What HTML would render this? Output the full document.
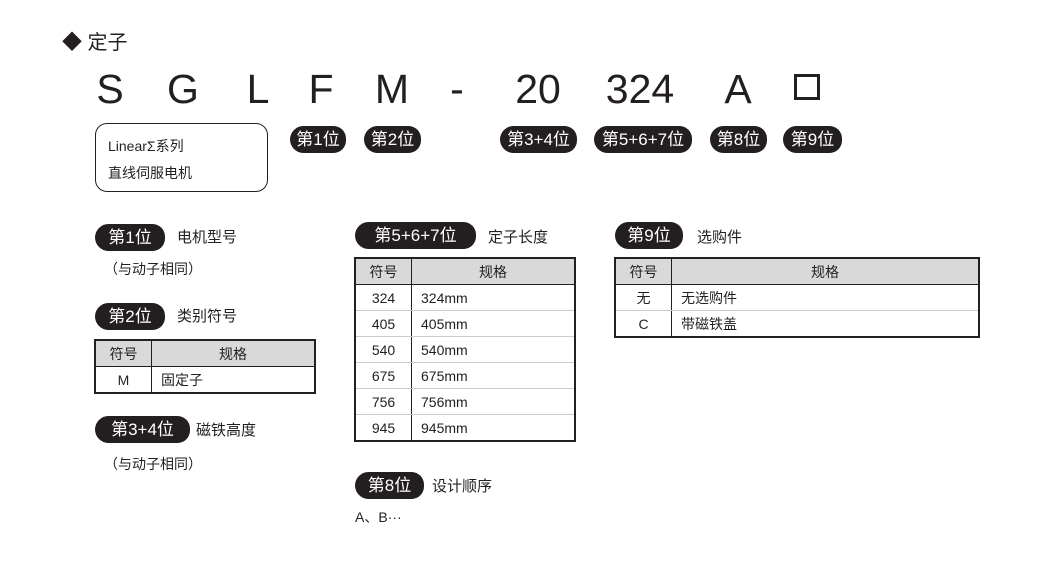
<!DOCTYPE html>
<html><head><meta charset="utf-8"><style>
body{margin:0;width:1061px;height:575px;background:#fff;position:relative;overflow:hidden;font-family:"Liberation Sans","Noto Sans CJK SC",sans-serif;color:#231f20}
.a{position:absolute;white-space:nowrap}
.big{position:absolute;top:66px;font-size:41px;line-height:46px;transform:translateX(-50%)}
.pill{position:absolute;background:#231f20;color:#fff;border-radius:14px 13px 13px 14px;font-size:17px;text-align:center;height:27px;line-height:27px}
.t{font-size:14px}
table{position:absolute;border-collapse:collapse;border:2px solid #231f20;font-size:14px}
td{height:25px;padding:0;border-bottom:1px solid #ccc}
td.c{text-align:center;border-right:1.5px solid #231f20}
td.l{padding-left:9px}
tr.h td{background:#d9d9d9;border-bottom:1.5px solid #231f20;text-align:center}
tr:last-child td{border-bottom:none}
</style></head><body>
<div class="a" style="left:62px;top:26px;font-size:20px">◆ 定子</div>
<div class="big" style="left:110px">S</div>
<div class="big" style="left:183px">G</div>
<div class="big" style="left:258px">L</div>
<div class="big" style="left:321px">F</div>
<div class="big" style="left:392px">M</div>
<div class="big" style="left:457px">-</div>
<div class="big" style="left:538px">20</div>
<div class="big" style="left:640px">324</div>
<div class="big" style="left:738px">A</div>
<div class="a" style="left:794px;top:74px;width:26px;height:26px;border:3px solid #231f20;box-sizing:border-box"></div>
<div class="a" style="left:95px;top:123px;width:173px;height:69px;border:1.5px solid #231f20;border-radius:12px;box-sizing:border-box"></div>
<div class="a t" style="left:108px;top:136px">LinearΣ系列</div>
<div class="a t" style="left:108px;top:163px">直线伺服电机</div>
<div class="pill" style="left:290px;top:126px;width:56px">第1位</div>
<div class="pill" style="left:364px;top:126px;width:57px">第2位</div>
<div class="pill" style="left:500px;top:126px;width:77px">第3+4位</div>
<div class="pill" style="left:594px;top:126px;width:98px">第5+6+7位</div>
<div class="pill" style="left:710px;top:126px;width:57px">第8位</div>
<div class="pill" style="left:783px;top:126px;width:59px">第9位</div>

<div class="pill" style="left:95px;top:224px;width:70px">第1位</div>
<div class="a" style="left:177px;top:226px;font-size:15px">电机型号</div>
<div class="a t" style="left:104px;top:259px">（与动子相同）</div>
<div class="pill" style="left:95px;top:303px;width:70px">第2位</div>
<div class="a" style="left:177px;top:305px;font-size:15px">类别符号</div>
<table style="left:94px;top:339px;width:222px"><tr class="h"><td class="c" style="width:55px">符号</td><td>规格</td></tr><tr><td class="c">M</td><td class="l">固定子</td></tr></table>
<div class="pill" style="left:95px;top:416px;width:95px">第3+4位</div>
<div class="a" style="left:196px;top:419px;font-size:15px">磁铁高度</div>
<div class="a t" style="left:104px;top:454px">（与动子相同）</div>

<div class="pill" style="left:355px;top:222px;width:121px">第5+6+7位</div>
<div class="a" style="left:488px;top:226px;font-size:15px">定子长度</div>
<table style="left:354px;top:257px;width:222px"><tr class="h"><td class="c" style="width:55px">符号</td><td>规格</td></tr>
<tr><td class="c">324</td><td class="l">324mm</td></tr><tr><td class="c">405</td><td class="l">405mm</td></tr><tr><td class="c">540</td><td class="l">540mm</td></tr><tr><td class="c">675</td><td class="l">675mm</td></tr><tr><td class="c">756</td><td class="l">756mm</td></tr><tr><td class="c">945</td><td class="l">945mm</td></tr></table>
<div class="pill" style="left:355px;top:472px;width:69px">第8位</div>
<div class="a" style="left:432px;top:475px;font-size:15px">设计顺序</div>
<div class="a t" style="left:355px;top:507px">A、B···</div>

<div class="pill" style="left:615px;top:222px;width:68px">第9位</div>
<div class="a" style="left:697px;top:226px;font-size:15px">选购件</div>
<table style="left:614px;top:257px;width:366px"><tr class="h"><td class="c" style="width:55px">符号</td><td>规格</td></tr><tr><td class="c">无</td><td class="l">无选购件</td></tr><tr><td class="c">C</td><td class="l">带磁铁盖</td></tr></table>
</body></html>
